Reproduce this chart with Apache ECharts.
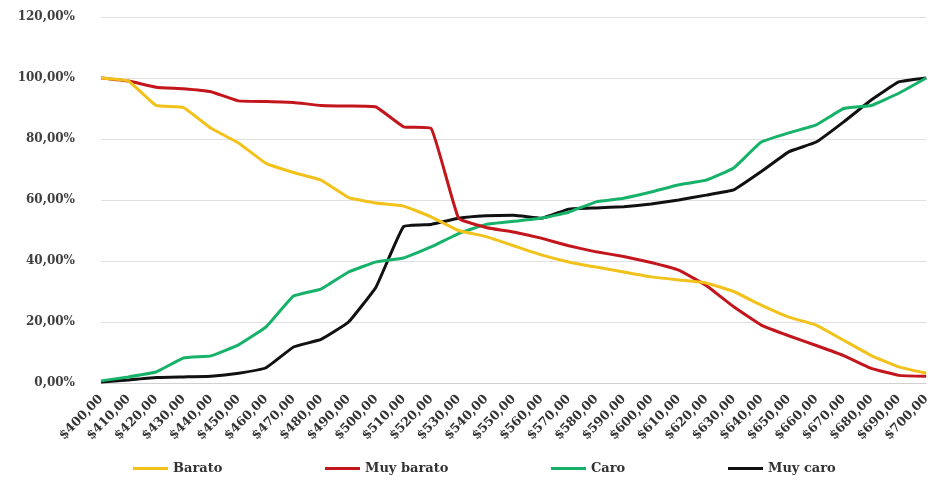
<!DOCTYPE html>
<html><head><meta charset="utf-8">
<script src="https://cdn.jsdelivr.net/npm/echarts@6/dist/echarts.min.js"></script>
<style>html,body{margin:0;padding:0;background:#fff}#c{width:933px;height:485px}</style>
</head><body><div id="c"></div>
<script>
const prices = [400,410,420,430,440,450,460,470,480,490,500,510,520,530,540,550,560,570,580,590,600,610,620,630,640,650,660,670,680,690,700];
const seriesNames = ['Barato','Muy barato','Caro','Muy caro'];
const barato =    [100,99,91,90.3,83.5,78.7,72,69,66.5,60.8,59,58,54.5,50,48,45,42,39.7,38,36.4,34.8,33.8,32.8,30,25.5,21.6,19,14,9,5.3,3.2];
const muyBarato = [100,99,97,96.5,95.5,92.5,92.3,92,91,90.8,90.5,84,83.5,54,51,49.5,47.5,45,43,41.5,39.5,37,32,25,19,15.5,12.3,9,4.8,2.5,2.2];
const caro =      [0.7,2,3.6,8.2,8.9,12.5,18.4,28.5,30.8,36.4,39.7,41,44.6,49,52,53,54,56,59.4,60.6,62.6,65,66.5,70.5,79,82,84.6,90,91,95,100];
const muyCaro =   [0.3,1,1.8,2,2.2,3.2,5,11.8,14.3,20,31.5,51.3,52,54,54.8,55,54,57,57.4,57.8,58.7,60,61.6,63.3,69.3,75.8,79,85.6,92.8,98.7,100];
const yTicks = [0,20,40,60,80,100,120];

const fmtPrice = p => '$' + p.toFixed(2).replace('.', ',');
const fmtPct = v => v.toFixed(2).replace('.', ',') + '%';
const colors = ['#F2C21B','#C3161C','#17B26A','#111111'];
const dataSets = [barato, muyBarato, caro, muyCaro];
const legendLeft = [128, 320, 546, 723];

const chart = echarts.init(document.getElementById('c'));
chart.setOption({
  animation:false,
  color: colors,
  grid:{left:101,right:5,top:17,bottom:102,containLabel:false},
  legend: seriesNames.map((n,i)=>({
    bottom:5,left:legendLeft[i],itemWidth:35,itemHeight:3,
    icon:'rect',
    textStyle:{fontFamily:'DejaVu Serif',fontWeight:'bold',fontSize:13,color:'#333'},
    data:[n]
  })),
  xAxis:{
    type:'category',boundaryGap:false,
    data:prices.map(fmtPrice),
    axisLine:{lineStyle:{color:'#d0d0d0'}},
    axisTick:{show:false},
    axisLabel:{rotate:46,interval:0,fontFamily:'DejaVu Serif',fontWeight:'bold',fontSize:12.5,color:'#333',margin:14}
  },
  yAxis:{
    type:'value',min:yTicks[0],max:yTicks[yTicks.length-1],interval:20,
    axisLine:{show:false},axisTick:{show:false},
    splitLine:{lineStyle:{color:'#e0e0e0',width:1}},
    axisLabel:{formatter:fmtPct,fontFamily:'DejaVu Serif',fontWeight:'bold',fontSize:12,color:'#404040',margin:26}
  },
  series: seriesNames.map((n,i)=>({
    name:n,type:'line',data:dataSets[i],showSymbol:false,symbol:'none',smooth:0.1,
    lineStyle:{width:3,color:colors[i]},z:10-i
  }))
});
</script></body></html>
